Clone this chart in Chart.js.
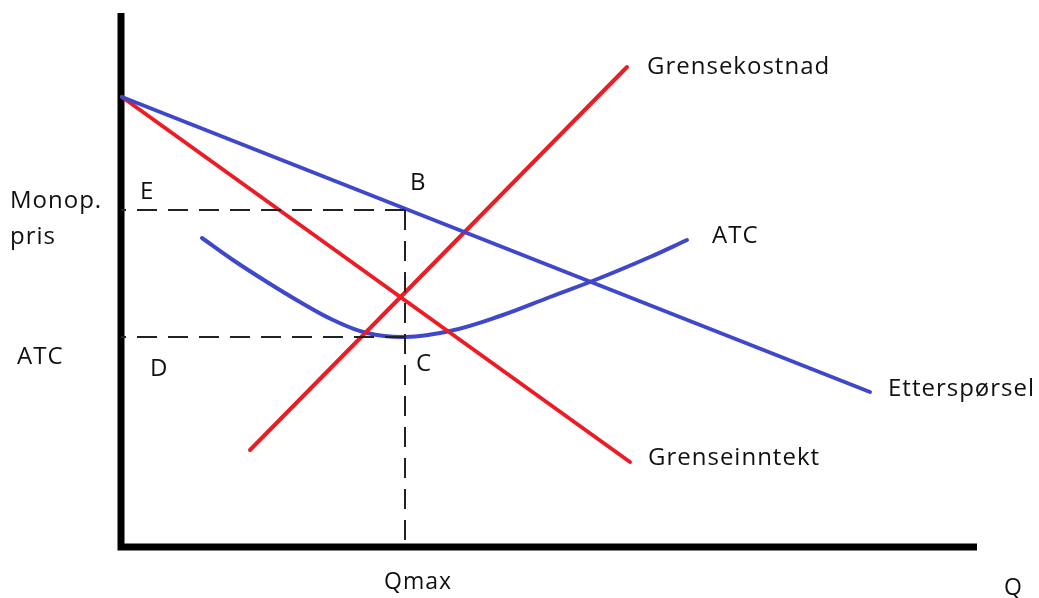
<!DOCTYPE html>
<html>
<head>
<meta charset="utf-8">
<script src="https://cdn.jsdelivr.net/npm/chart.js@4/dist/chart.umd.min.js"></script>
<style>
  html, body { margin:0; padding:0; background:#fff; }
  #wrap { width:1039px; height:598px; position:relative; }
</style>
</head>
<body>
<div id="wrap"><canvas id="monoChart"></canvas></div>
<script>
// Q = quantity, P = price (origin where the axes cross)
const demandQ = [1, 749];
const demandP = [450, 155];
const mrQ = [1, 509];
const mrP = [450, 85];
const mcQ = [129, 506];
const mcP = [97, 480];
const atcQ = [81, 112, 146, 179, 212, 246, 284, 329, 379, 429, 479, 529, 566];
const atcP = [309, 287, 265, 245, 227, 214, 210, 216, 231, 250, 269, 290, 307];

const qMax = 284;
const monopPrice = 337;
const atcAtQmax = 210;
const axisQEnd = 856;
const axisPEnd = 534;

// text labels [text, Q, P]
const labels = [
  ['Grensekostnad', 526, 480],
  ['ATC', 591, 311],
  ['Etterspørsel', 767, 158],
  ['Grenseinntekt', 527, 89],
  ['B', 289, 364],
  ['E', 19, 355],
  ['D', 29, 178],
  ['C', 295, 183],
  ['Monop.', -111, 346],
  ['pris', -111, 310],
  ['ATC', -104, 190]
];
const axisLabels = [
  ['Qmax', 263, -35],
  ['Q', 883, -41]
];

const blue = '#3f48cc';
const red = '#ed1c24';

const pts = (xs, ys) => xs.map((x,i)=>({x:x, y:ys[i]}));

const textPlugin = {
  id:'textLabels',
  afterDatasetsDraw(chart){
    const ctx = chart.ctx;
    const xs = chart.scales.x, ys = chart.scales.y;
    ctx.save();
    ctx.fillStyle = '#111';
    ctx.textBaseline = 'middle';
    ctx.textAlign = 'left';
    ctx.font = '24px "Open Sans", sans-serif';
    ctx.letterSpacing = '1px';
    labels.forEach(l => ctx.fillText(l[0], xs.getPixelForValue(l[1]), ys.getPixelForValue(l[2])));
    ctx.font = '23px "Open Sans", sans-serif';
    axisLabels.forEach(l => ctx.fillText(l[0], xs.getPixelForValue(l[1]), ys.getPixelForValue(l[2])));
    ctx.restore();
  }
};

const line = (data, color, width, extra) => Object.assign({
  data: data, borderColor: color, borderWidth: width, pointRadius: 0,
  showLine: true, fill: false, tension: 0, borderCapStyle: 'round'
}, extra || {});

new Chart(document.getElementById('monoChart'), {
  type: 'scatter',
  data: {
    datasets: [
      line([{x:qMax,y:monopPrice},{x:0,y:monopPrice}], '#222', 2, {borderDash:[20,11], borderCapStyle:'butt'}),
      line([{x:qMax,y:atcAtQmax},{x:0,y:atcAtQmax}], '#222', 2, {borderDash:[20,11], borderCapStyle:'butt'}),
      line([{x:qMax,y:monopPrice},{x:qMax,y:0}], '#222', 2, {borderDash:[20,11], borderCapStyle:'butt'}),
      line(pts(demandQ, demandP), blue, 4),
      line(pts(mrQ, mrP), red, 4),
      line(pts(mcQ, mcP), red, 4),
      line(pts(atcQ, atcP), blue, 4, {tension: 0.4}),
      line([{x:0,y:axisPEnd},{x:0,y:0},{x:axisQEnd,y:0}], '#000', 7, {borderCapStyle:'butt', borderJoinStyle:'miter'})
    ]
  },
  options: {
    responsive: true,
    maintainAspectRatio: false,
    animation: false,
    layout: { padding: 0 },
    plugins: { legend:{display:false}, tooltip:{enabled:false} },
    scales: {
      x: { type:'linear', display:false, min:-121, max:918 },
      y: { type:'linear', display:false, min:-51, max:547 }
    }
  },
  plugins: [textPlugin]
});
</script>
</body>
</html>
